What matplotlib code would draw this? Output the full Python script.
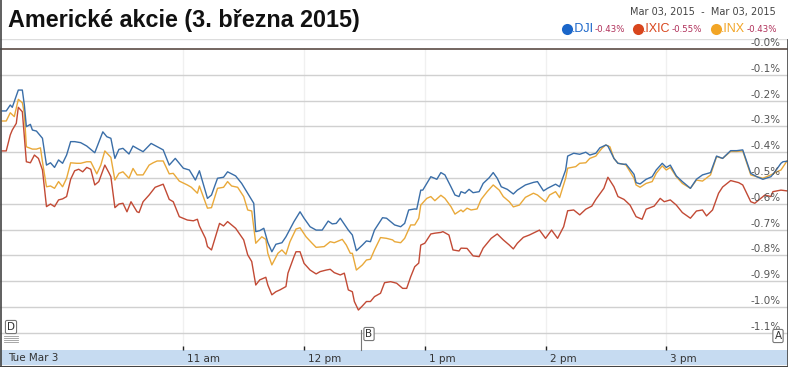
import matplotlib
matplotlib.use("Agg")
import matplotlib.pyplot as plt
import matplotlib.transforms as mtransforms
from matplotlib.patches import Rectangle
from matplotlib.lines import Line2D

# minutes after 9:30 and % change
dji_min = [0, 2, 4, 5, 8, 10, 11, 12, 14, 15, 17, 20, 22, 24, 26, 28, 30, 32, 34, 36, 39, 42, 46, 50, 52, 54,
           56, 58, 60, 63, 65, 67, 70, 74, 80, 83, 86, 90, 93, 96, 98, 102, 104, 107, 110, 112, 116, 119, 123,
           125, 126, 128, 130, 132, 134, 136, 139, 141, 145, 148, 150, 153, 156, 159, 162, 164, 166, 168, 170,
           172, 174, 176, 179, 181, 183, 185, 189, 191, 193, 195, 198, 200, 202, 205, 206, 208, 209, 212, 213,
           216, 218, 220, 223, 225, 227, 228, 230, 232, 234, 237, 239, 242, 244, 246, 248, 251, 254, 256, 260,
           264, 266, 269, 271, 275, 277, 280, 281, 284, 287, 290, 292, 295, 297, 300, 301, 304, 306, 309, 310,
           314, 315, 317, 320, 323, 325, 328, 330, 332, 335, 338, 342, 345, 348, 352, 355, 358, 362, 365, 368,
           372, 375, 378, 382, 384, 387, 388, 390]
dji_pct = [-0.240, -0.240, -0.217, -0.226, -0.159, -0.159, -0.217, -0.301, -0.292, -0.314, -0.318, -0.346,
           -0.450, -0.441, -0.459, -0.430, -0.443, -0.411, -0.359, -0.359, -0.363, -0.376, -0.402, -0.321,
           -0.340, -0.346, -0.424, -0.389, -0.385, -0.407, -0.376, -0.385, -0.398, -0.366, -0.391, -0.450,
           -0.424, -0.462, -0.469, -0.508, -0.472, -0.579, -0.566, -0.501, -0.497, -0.476, -0.492, -0.521,
           -0.572, -0.598, -0.708, -0.704, -0.695, -0.750, -0.786, -0.757, -0.751, -0.728, -0.669, -0.631,
           -0.656, -0.689, -0.702, -0.702, -0.667, -0.678, -0.676, -0.656, -0.679, -0.702, -0.721, -0.782,
           -0.760, -0.744, -0.747, -0.702, -0.654, -0.656, -0.669, -0.682, -0.689, -0.676, -0.624, -0.620,
           -0.621, -0.547, -0.547, -0.508, -0.495, -0.505, -0.479, -0.488, -0.534, -0.566, -0.572, -0.553,
           -0.559, -0.544, -0.557, -0.553, -0.521, -0.499, -0.479, -0.501, -0.534, -0.544, -0.562, -0.547,
           -0.527, -0.517, -0.514, -0.550, -0.540, -0.524, -0.534, -0.469, -0.415, -0.404, -0.408, -0.400,
           -0.411, -0.404, -0.383, -0.372, -0.376, -0.424, -0.443, -0.447, -0.446, -0.486, -0.518, -0.523,
           -0.505, -0.495, -0.469, -0.443, -0.459, -0.450, -0.492, -0.514, -0.540, -0.505, -0.488, -0.479,
           -0.415, -0.424, -0.394, -0.394, -0.391, -0.482, -0.495, -0.505, -0.495, -0.476, -0.443, -0.437,
           -0.435]

inx_min = [0, 2, 4, 6, 8, 10, 11, 12, 15, 17, 19, 20, 22, 24, 26, 28, 30, 32, 34, 37, 39, 42, 44, 47, 49,
           51, 54, 56, 58, 60, 63, 65, 67, 70, 73, 75, 77, 80, 83, 85, 88, 92, 94, 97, 98, 102, 104, 107, 110,
           112, 114, 117, 120, 122, 124, 126, 129, 131, 132, 134, 137, 139, 141, 143, 146, 148, 151, 154, 156,
           160, 163, 165, 169, 171, 173, 174, 176, 179, 181, 183, 185, 188, 191, 194, 195, 198, 200, 203, 205,
           207, 208, 211, 213, 215, 218, 220, 223, 225, 228, 229, 231, 233, 236, 238, 241, 244, 247, 249, 252,
           254, 257, 260, 264, 266, 270, 272, 275, 277, 280, 281, 285, 287, 290, 292, 295, 298, 300, 302, 304,
           306, 309, 310, 314, 315, 317, 320, 323, 325, 328, 330, 332, 335, 338, 342, 345, 348, 352, 355, 358,
           362, 365, 368, 372, 375, 378, 382, 385, 387, 390]
inx_pct = [-0.279, -0.279, -0.247, -0.262, -0.195, -0.208, -0.249, -0.379, -0.388, -0.388, -0.383, -0.437,
           -0.534, -0.531, -0.540, -0.514, -0.534, -0.501, -0.441, -0.443, -0.443, -0.437, -0.437, -0.484,
           -0.450, -0.395, -0.420, -0.508, -0.482, -0.476, -0.501, -0.463, -0.488, -0.488, -0.450, -0.441,
           -0.434, -0.434, -0.484, -0.482, -0.512, -0.527, -0.536, -0.559, -0.531, -0.617, -0.615, -0.540,
           -0.536, -0.514, -0.531, -0.536, -0.572, -0.624, -0.628, -0.753, -0.728, -0.738, -0.792, -0.837,
           -0.792, -0.779, -0.796, -0.747, -0.698, -0.693, -0.728, -0.753, -0.769, -0.766, -0.747, -0.751,
           -0.738, -0.760, -0.792, -0.792, -0.857, -0.837, -0.818, -0.815, -0.779, -0.731, -0.734, -0.740,
           -0.747, -0.751, -0.734, -0.682, -0.682, -0.656, -0.605, -0.579, -0.572, -0.588, -0.567, -0.579,
           -0.611, -0.640, -0.624, -0.631, -0.617, -0.624, -0.620, -0.583, -0.553, -0.527, -0.547, -0.572,
           -0.592, -0.612, -0.605, -0.575, -0.559, -0.566, -0.592, -0.566, -0.553, -0.576, -0.501, -0.462,
           -0.456, -0.443, -0.441, -0.424, -0.415, -0.385, -0.372, -0.379, -0.424, -0.443, -0.447, -0.450,
           -0.501, -0.527, -0.536, -0.521, -0.514, -0.482, -0.453, -0.469, -0.459, -0.495, -0.521, -0.540,
           -0.508, -0.512, -0.488, -0.417, -0.424, -0.397, -0.397, -0.395, -0.488, -0.495, -0.501, -0.488,
           -0.476, -0.469, -0.434]

ixic_min = [0, 2, 4, 5, 7, 8, 10, 12, 14, 16, 18, 20, 22, 24, 26, 28, 30, 32, 34, 36, 38, 40, 42, 44, 46,
            48, 51, 53, 54, 56, 58, 60, 62, 64, 67, 68, 70, 73, 76, 80, 83, 85, 88, 92, 95, 97, 98, 101, 102,
            104, 108, 110, 112, 116, 120, 122, 124, 126, 128, 131, 132, 134, 136, 138, 141, 142, 145, 146, 148,
            150, 153, 156, 158, 161, 163, 165, 168, 170, 172, 174, 175, 177, 179, 181, 183, 185, 188, 190, 193,
            196, 199, 201, 203, 205, 207, 208, 210, 213, 215, 218, 219, 222, 224, 227, 228, 231, 234, 237, 239,
            243, 246, 249, 252, 254, 256, 259, 262, 267, 270, 273, 276, 279, 281, 284, 287, 290, 293, 295, 299,
            301, 304, 306, 309, 312, 315, 318, 320, 324, 327, 329, 332, 335, 338, 342, 345, 348, 350, 353, 356,
            358, 362, 366, 368, 372, 374, 377, 379, 382, 383, 387, 390]
ixic_pct = [-0.395, -0.395, -0.333, -0.314, -0.288, -0.226, -0.243, -0.437, -0.441, -0.411, -0.424, -0.469,
            -0.611, -0.601, -0.611, -0.585, -0.581, -0.572, -0.505, -0.472, -0.466, -0.476, -0.459, -0.466,
            -0.527, -0.514, -0.450, -0.479, -0.495, -0.615, -0.601, -0.598, -0.631, -0.592, -0.631, -0.634,
            -0.592, -0.566, -0.536, -0.524, -0.583, -0.592, -0.650, -0.663, -0.666, -0.660, -0.686, -0.734,
            -0.766, -0.779, -0.676, -0.686, -0.669, -0.695, -0.740, -0.798, -0.824, -0.915, -0.895, -0.885,
            -0.915, -0.953, -0.941, -0.934, -0.921, -0.869, -0.805, -0.786, -0.786, -0.831, -0.857, -0.872,
            -0.863, -0.857, -0.854, -0.867, -0.876, -0.869, -0.934, -0.941, -0.979, -1.012, -0.996, -0.979,
            -0.979, -0.960, -0.947, -0.906, -0.902, -0.908, -0.928, -0.928, -0.883, -0.844, -0.830, -0.760,
            -0.753, -0.717, -0.714, -0.711, -0.708, -0.721, -0.779, -0.783, -0.772, -0.773, -0.802, -0.805,
            -0.772, -0.734, -0.717, -0.740, -0.760, -0.775, -0.753, -0.730, -0.721, -0.702, -0.734, -0.702,
            -0.734, -0.689, -0.627, -0.624, -0.643, -0.621, -0.609, -0.583, -0.540, -0.497, -0.534, -0.572,
            -0.583, -0.605, -0.650, -0.660, -0.621, -0.609, -0.579, -0.592, -0.585, -0.605, -0.634, -0.656,
            -0.628, -0.624, -0.647, -0.624, -0.559, -0.535, -0.510, -0.518, -0.527, -0.592, -0.598, -0.579,
            -0.566, -0.572, -0.553, -0.547, -0.550]

tick_min = [90, 150, 210, 270, 330]
tick_labels = ["11 am", "12 pm", "1 pm", "2 pm", "3 pm"]
grid_levels = [0.0, -0.1, -0.2, -0.3, -0.4, -0.5, -0.6, -0.7, -0.8, -0.9, -1.0, -1.1]
legend_names = [".DJI", ".IXIC", ".INX"]
legend_vals = ["-0.43%", "-0.55%", "-0.43%"]

W, H = 788, 367
c_dji, c_ixic, c_inx = "#3a6ea8", "#c24a35", "#e9a93a"

fig = plt.figure(figsize=(W / 100, H / 100), dpi=100)

def fx(px):
    return px / W

def fy(py):
    return 1 - py / H

# plot area: x 0..788 px, y 39..350 px
ax = fig.add_axes([0, fy(350), 1, fy(39) - fy(350)])
ax.set_xlim(-1.1, 390.5)
ax.set_ylim(-1.167, 0.039)
for s in ax.spines.values():
    s.set_visible(False)

for v in grid_levels[1:]:
    ax.axhline(v, color="#d0d0d0", lw=1.0, zorder=1)
ax.axhline(0.0, color="#5b4c44", lw=1.2, zorder=1)
for t in tick_min:
    ax.axvline(t, ymax=1.167 / 1.206, color="#f0f0f0", lw=1.0, zorder=0)
ax.axhline(0.038, color="#dddddd", lw=1.0)

ax.plot(inx_min, inx_pct, color=c_inx, lw=1.0, zorder=3)
ax.plot(ixic_min, ixic_pct, color=c_ixic, lw=1.0, zorder=3)
ax.plot(dji_min, dji_pct, color=c_dji, lw=1.0, zorder=4)

ytrans = mtransforms.blended_transform_factory(ax.transAxes, ax.transData)
for v in grid_levels:
    ax.text(0.991, v + 0.004, "-%.1f%%" % abs(v), transform=ytrans, ha="right", va="bottom",
            fontsize=7.5, color="#555555", family="DejaVu Sans", zorder=5)

ax.set_yticks([])
ax.set_xticks(tick_min)
ax.set_xticklabels(tick_labels)
ax.tick_params(axis="x", direction="in", length=3, width=1, color="#222222", pad=3,
               labelsize=7.5, labelcolor="#333333")
offset = mtransforms.ScaledTranslation(4 / 100, 0, fig.dpi_scale_trans)
for lab in ax.get_xticklabels():
    lab.set_horizontalalignment("left")
    lab.set_transform(lab.get_transform() + offset)
ax.text(fx(8), fy(358), "Tue Mar 3", transform=fig.transFigure, ha="left", va="center",
        fontsize=7.5, color="#333333", zorder=6)

# axis band and frame
fig.patches.append(Rectangle((0, fy(365)), 1, fy(350) - fy(365), transform=fig.transFigure,
                             facecolor="#c6dbf1", edgecolor="none", zorder=-1))
fig.lines.append(Line2D([fx(0.5), fx(0.5)], [fy(367), fy(0)], transform=fig.transFigure, color="#444444", lw=1.2))
fig.lines.append(Line2D([fx(787.5), fx(787.5)], [fy(367), fy(40)], transform=fig.transFigure, color="#444444", lw=1.2))
fig.lines.append(Line2D([0, 1], [fy(366.5), fy(366.5)], transform=fig.transFigure, color="#444444", lw=1.5))

# event flags
flag = dict(boxstyle="round,pad=0.15", facecolor="white", edgecolor="#777777", lw=0.8)
fig.text(fx(11), fy(327), "D", ha="center", va="center", fontsize=7.5, color="#333333", bbox=flag)
fig.text(fx(369), fy(334), "B", ha="center", va="center", fontsize=7.5, color="#333333", bbox=flag)
fig.text(fx(778), fy(336), "A", ha="center", va="center", fontsize=7.5, color="#333333", bbox=flag)
fig.lines.append(Line2D([fx(361), fx(361)], [fy(350), fy(330)], transform=fig.transFigure, color="#777777", lw=0.8))
for yy in range(336, 344, 2):
    fig.lines.append(Line2D([fx(4), fx(18)], [fy(yy), fy(yy)], transform=fig.transFigure, color="#999999", lw=0.6))

# title and header
fig.text(fx(8), fy(20), "Americké akcie (3. března 2015)", ha="left", va="center",
         fontsize=16.8, fontweight="bold", family="Liberation Sans", color="#111111")
fig.text(fx(776), fy(12), "Mar 03, 2015  -  Mar 03, 2015", ha="right", va="center",
         fontsize=7, color="#444444")

dot_x = [567, 638, 716]
dot_c = ["#1b66c9", "#d8461d", "#f2a526"]
for px, col, name, val in zip(dot_x, dot_c, legend_names, legend_vals):
    fig.lines.append(Line2D([fx(px)], [fy(29)], transform=fig.transFigure, marker="o", markersize=8,
                            color=col, markeredgewidth=0, linestyle="none"))
    t = fig.text(fx(px + 5), fy(29), name, ha="left", va="center", fontsize=9,
                 family="Liberation Sans", color=col)
    fig.canvas.draw()
    bb = t.get_window_extent()
    fig.text(bb.x1 / W + fx(1), fy(30), val, ha="left", va="center", fontsize=6.2, color="#b0305a")

fig.savefig("out.png", dpi=100)
